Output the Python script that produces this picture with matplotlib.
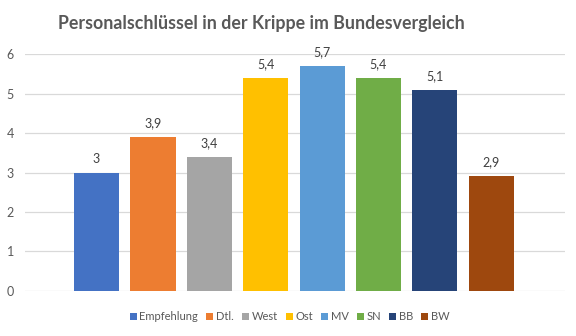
import matplotlib.pyplot as plt
from matplotlib.patches import Patch

plt.rcParams['font.family'] = ['Lato', 'DejaVu Sans']

# Personalschlüssel je Region
labels = ['Empfehlung', 'Dtl.', 'West', 'Ost', 'MV', 'SN', 'BB', 'BW']
values = [3, 3.9, 3.4, 5.4, 5.7, 5.4, 5.1, 2.9]
colors = ['#4472C4', '#ED7D31', '#A5A5A5', '#FFC000',
          '#5B9BD5', '#70AD47', '#264478', '#9E480E']
yticks = [0, 1, 2, 3, 4, 5, 6]

fig = plt.figure(figsize=(5.76, 3.36), dpi=100)
ax = fig.add_axes([0.0434, 0.134, 0.9376, 0.705])

x = range(len(values))
bars = ax.bar(x, values, width=0.8, color=colors, zorder=3)

for xi, v in zip(x, values):
    txt = str(v).replace('.', ',')
    ax.text(xi, v + 0.2, txt, ha='center', va='bottom',
            fontsize=9, color='#404040', zorder=4)

ax.set_xlim(-1.27, 8.31)
ax.set_ylim(0, 6)
ax.set_yticks(yticks)
ax.set_yticklabels([str(t) for t in yticks])
ax.set_xticks([])
ax.yaxis.grid(True, color='#D9D9D9', linewidth=0.9, zorder=0)
ax.tick_params(axis='y', length=0, labelsize=9, labelcolor='#595959', pad=8)
for s in ax.spines.values():
    s.set_visible(False)

fig.suptitle('Personalschlüssel in der Krippe im Bundesvergleich',
             x=0.453, y=0.955, fontsize=12.8, fontweight='bold', color='#595959')

handles = [Patch(facecolor=c, label=l) for c, l in zip(colors, labels)]
leg = fig.legend(handles=handles, loc='center', bbox_to_anchor=(0.503, 0.058),
                 ncol=8, frameon=False, fontsize=8, handlelength=0.6,
                 handleheight=0.6, handletextpad=0.25, columnspacing=0.75)
for t in leg.get_texts():
    t.set_color('#595959')

fig.savefig('out.png', dpi=100)
